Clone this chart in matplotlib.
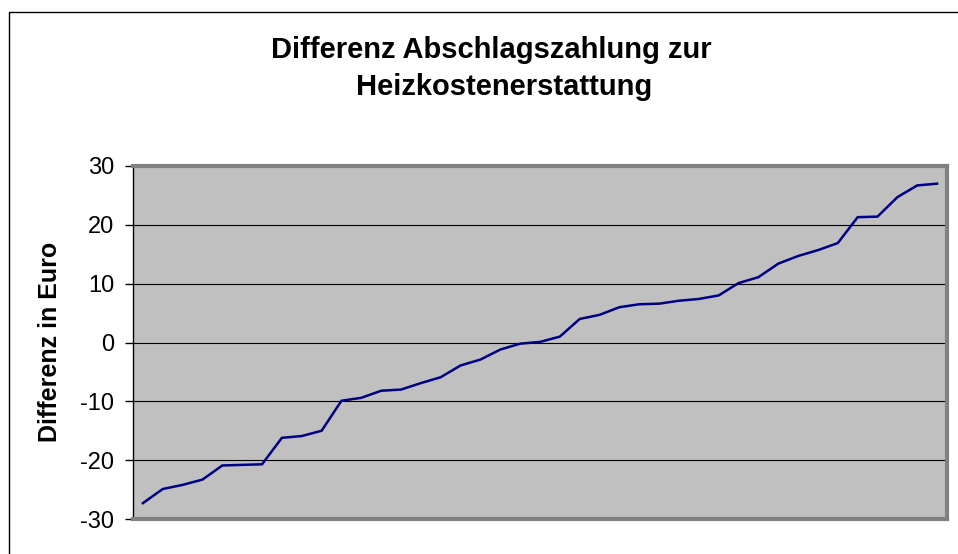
import matplotlib
matplotlib.use("Agg")
import matplotlib.pyplot as plt
from matplotlib.patches import Rectangle

plt.rcParams['font.family'] = ['Liberation Sans', 'DejaVu Sans']

title_lines = ["Differenz Abschlagszahlung zur", "Heizkostenerstattung"]
ylabel = "Differenz in Euro"
values = [-27.3, -24.9, -24.2, -23.3, -20.9, -20.8, -20.7, -16.2, -15.9, -15.0,
          -9.9, -9.4, -8.2, -8.0, -6.9, -5.9, -3.9, -2.9, -1.2, -0.2,
          0.1, 1.0, 4.0, 4.7, 6.0, 6.5, 6.6, 7.1, 7.4, 8.0,
          10.1, 11.1, 13.4, 14.7, 15.7, 16.9, 21.3, 21.4, 24.7, 26.7, 27.0]
yticks = [-30, -20, -10, 0, 10, 20, 30]

W, H = 958, 554
fig = plt.figure(figsize=(W / 100, H / 100), dpi=100)
fig.patch.set_facecolor('white')

# outer chart frame (extends past right/bottom edge)
fig.patches.append(Rectangle((9 / W, -0.05), 1.1, (H - 12) / H + 0.05,
                             transform=fig.transFigure, fill=False,
                             edgecolor='black', linewidth=1.0))

l, r, t, b = 133, 947, 166, 519
ax = fig.add_axes([l / W, 1 - b / H, (r - l) / W, (b - t) / H])
ax.set_facecolor('#C0C0C0')

x = list(range(len(values)))
ax.plot(x, values, color='#000080', linewidth=1.8, solid_joinstyle='miter')
ax.set_xlim(-0.5, len(values) - 0.5)
ax.set_ylim(-30, 30)
ax.set_yticks(yticks)
ax.set_yticklabels([str(v) for v in yticks], fontsize=17)
ax.set_xticks([])
for v in yticks[1:-1]:
    ax.axhline(v, color='black', linewidth=0.8, zorder=1)

for s in ['top', 'right', 'bottom']:
    ax.spines[s].set_color('#808080')
    ax.spines[s].set_linewidth(3.0)
ax.spines['left'].set_color('black')
ax.spines['left'].set_linewidth(1.0)
ax.tick_params(axis='y', direction='out', length=5.5, width=1, color='black', pad=8)

fig.text(50 / W, 1 - 342 / H, ylabel, rotation=90, ha='center', va='center',
         fontsize=18, fontweight='bold')

fig.text(491 / W, 1 - 58 / H, title_lines[0], ha='center', va='baseline',
         fontsize=21, fontweight='bold')
fig.text(504 / W, 1 - 95 / H, title_lines[1], ha='center', va='baseline',
         fontsize=21, fontweight='bold')

fig.savefig('out.png', dpi=100)
